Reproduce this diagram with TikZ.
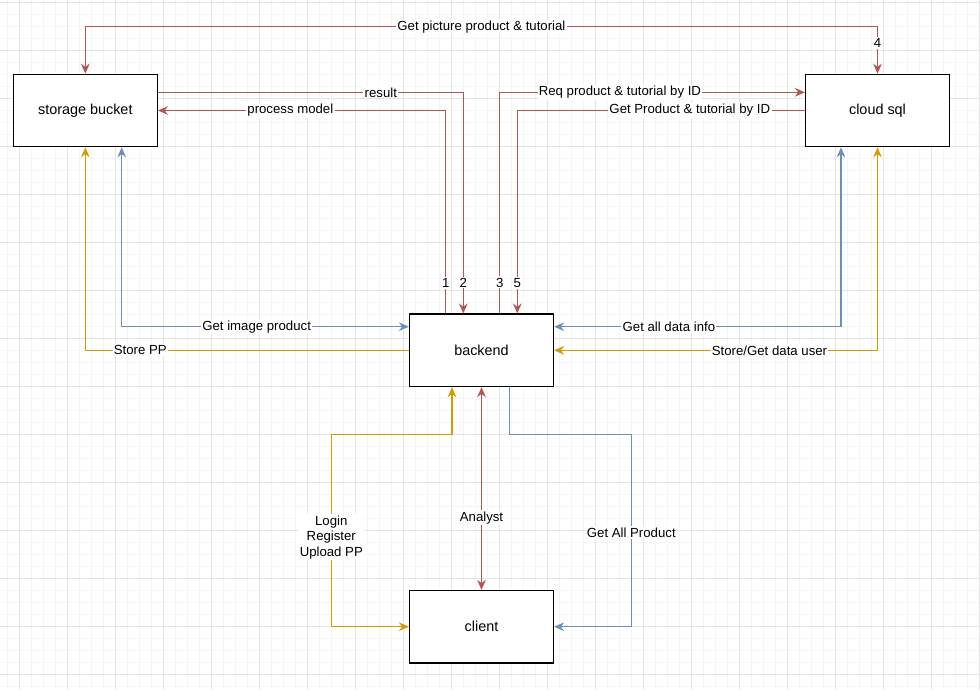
\documentclass[tikz,border=0pt]{standalone}
\usepackage{fontspec}
\setmainfont{Liberation Sans}
\usetikzlibrary{arrows.meta}
\definecolor{ered}{HTML}{B85450}
\definecolor{eblue}{HTML}{6C8EBF}
\definecolor{eorange}{HTML}{D79B00}
\definecolor{gminorc}{HTML}{F5F5F5}
\definecolor{gmajorc}{HTML}{E4E4E4}
\tikzset{
  gminor/.style={draw=gminorc,line width=0.75pt},
  gmajor/.style={draw=gmajorc,line width=0.75pt},
  box/.style={draw=black,line width=1pt,fill=white,minimum width=108pt,minimum height=54.3pt,inner sep=0pt,font=\fontsize{10.8}{13}\selectfont},
  conn/.style={line width=0.8pt},
  tip/.tip={Stealth[length=7.5pt,width=6.5pt,inset=2.5pt]},
  rconn/.style={conn,draw=ered,-tip},
  bconn/.style={conn,draw=eblue,-tip},
  oconn/.style={conn,draw=eorange,-tip},
  lbl/.style={fill=white,inner sep=1pt,text=black,font=\fontsize{9.9}{11.6}\selectfont,align=center},
}
\begin{document}
\begin{tikzpicture}[x=0.75pt,y=-0.75pt]
\useasboundingbox (0,0) rectangle (980,690);
\fill[white] (0,0) rectangle (980,690);
% grid
\foreach \i in {0,...,81} {\draw[gminor] ({7.3+12*\i},0) -- ({7.3+12*\i},690);}
\foreach \i in {0,...,57} {\draw[gminor] (0,{2.3+12*\i}) -- (980,{2.3+12*\i});}
\foreach \i in {0,...,20} {\draw[gmajor] ({19.3+48*\i},0) -- ({19.3+48*\i},690);}
\foreach \i in {0,...,14} {\draw[gmajor] (0,{2.3+48*\i}) -- (980,{2.3+48*\i});}
% nodes
\node[box] (sb) at (85.3,110.5) {storage bucket};
\node[box] (cs) at (877.5,110.5) {cloud sql};
\node[box] (be) at (481.5,350.3) {backend};
\node[box] (cl) at (481.5,626.7) {client};
% top edge
\draw[rconn,tip-tip] (cs.north) -- node[lbl,pos=0.65]{4} (cs.north |- 0,26.7) -- node[lbl]{Get picture product \& tutorial} (sb.north |- 0,26.7) -- (sb.north);
% result
\draw[rconn] (sb.east |- 0,92.3) -- node[lbl,pos=0.73]{result} (463.3,92.3) -- node[lbl,pos=0.86]{2} (463.3,0 |- be.north);
% process model
\draw[rconn] (445.7,0 |- be.north) -- node[lbl,pos=0.15]{1} (445.7,110.5) -- node[lbl,pos=0.54]{process model} (sb.east);
% req product
\draw[rconn] (499.7,0 |- be.north) -- node[lbl,pos=0.14]{3} (499.7,92.3) -- node[lbl,pos=0.394]{Req product \& tutorial by ID} (cs.west |- 0,92.3);
% get product
\draw[rconn] (cs.west) -- node[lbl,pos=0.40]{Get Product \& tutorial by ID} (517.3,110.5) -- node[lbl,pos=0.85]{5} (517.3,0 |- be.north);
% get image product
\draw[bconn,tip-tip] (121.7,0 |- sb.south) -- (121.7,326.7) -- node[lbl,pos=0.47]{Get image product} (be.west |- 0,326.7);
% store PP
\draw[oconn] (be.west) -- node[lbl,pos=0.83]{Store PP} (85.3,350.3) -- (sb.south);
% get all data info
\draw[bconn,tip-tip] (841,0 |- cs.south) -- (841,326.7) -- node[lbl,pos=0.60]{Get all data info} (be.east |- 0,326.7);
% store/get data user
\draw[oconn,tip-tip] (cs.south) -- (877.5,350.3) -- node[lbl,pos=0.334]{Store/Get data user} (be.east);
% login
\draw[oconn,tip-tip] (452,0 |- be.south) -- (452,434.3) -- (331.3,434.3) -- node[lbl,pos=0.535]{Login\\Register\\Upload PP} (331.3,626.7) -- (cl.west);
% analyst
\draw[rconn,tip-tip] (be.south) -- node[lbl,pos=0.645]{Analyst} (cl.north);
% get all product
\draw[bconn] (509.3,0 |- be.south) -- (509.3,434.3) -- (631.3,434.3) -- node[lbl,pos=0.51]{Get All Product} (631.3,626.7) -- (cl.east);
\end{tikzpicture}
\end{document}
